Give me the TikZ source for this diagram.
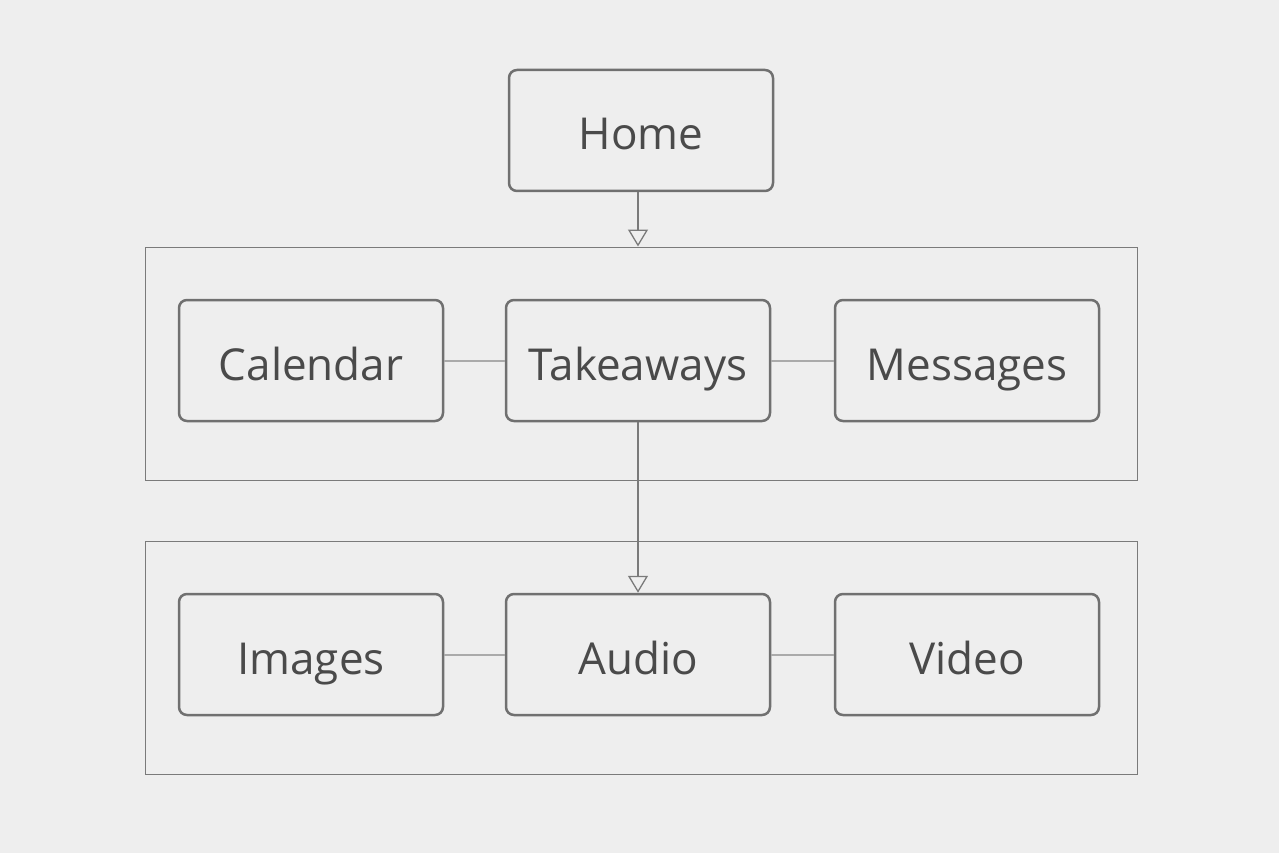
\documentclass[tikz,border=0pt]{standalone}
\usepackage{fontspec}
\setmainfont{Open Sans}
\usetikzlibrary{arrows.meta}
\definecolor{bg}{HTML}{EEEEEE}
\definecolor{boxline}{HTML}{707070}
\definecolor{grpline}{HTML}{7A7A7A}
\definecolor{conn}{HTML}{AAAAAA}
\definecolor{txt}{HTML}{4A4A4A}
\tikzset{
  pagebox/.style={draw=boxline, line width=2.5pt, rounded corners=8pt,
    minimum width=264pt, minimum height=121pt, inner sep=0pt,
    text height=39pt, text depth=0pt,
    text=txt, font=\fontsize{44}{52}\selectfont},
  groupbox/.style={draw=grpline, line width=1pt, minimum width=992pt,
    minimum height=233pt, inner sep=0pt},
  link/.style={draw=conn, line width=2pt},
  flow/.style={draw=grpline, line width=1.3pt,
    -{Triangle[open, length=17pt, width=20pt, line width=1.3pt]}},
}
\begin{document}
\begin{tikzpicture}[x=1pt,y=-1pt]
\fill[bg] (0,0) rectangle (1279,853);
\useasboundingbox (0,0) rectangle (1279,853);
\node[groupbox] (g1) at (641,363.5) {};
\node[groupbox] (g2) at (641,657.5) {};
\node[pagebox] (home) at (641,130.5) {Home};
\node[pagebox] (cal) at (311,360.5) {Calendar};
\node[pagebox] (take) at (638,360.5) {Takeaways};
\node[pagebox] (msg) at (967,360.5) {Messages};
\node[pagebox] (img) at (311,654.5) {Images};
\node[pagebox] (aud) at (638,654.5) {Audio};
\node[pagebox] (vid) at (967,654.5) {Video};
\draw[link] (cal) -- (take);
\draw[link] (take) -- (msg);
\draw[link] (img) -- (aud);
\draw[link] (aud) -- (vid);
\draw[flow] (take.north |- home.south) -- (take.north |- g1.north);
\draw[flow] (take.south) -- (aud.north);
\end{tikzpicture}
\end{document}
